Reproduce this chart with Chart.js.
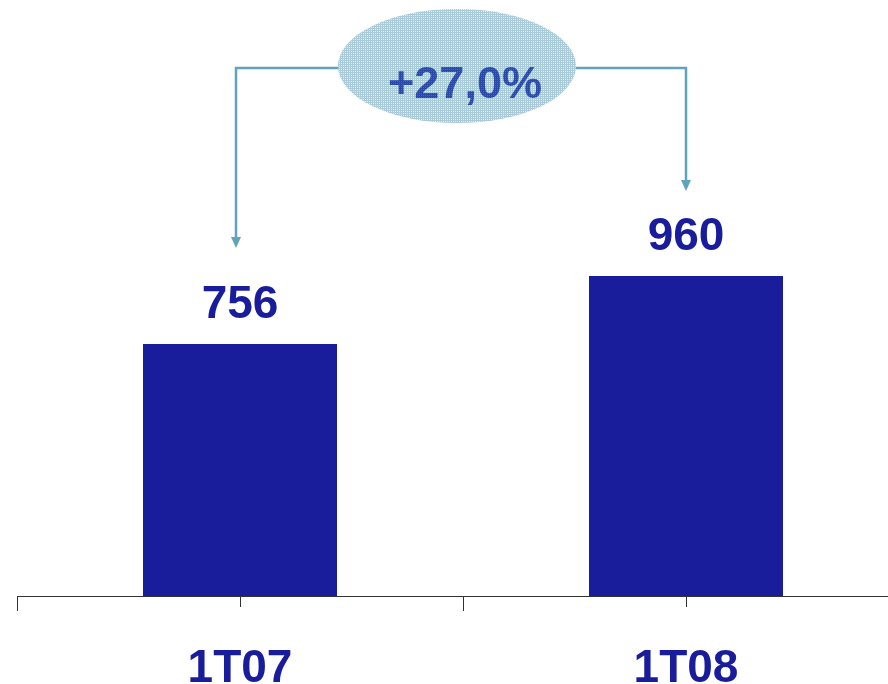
<!DOCTYPE html>
<html>
<head>
<meta charset="utf-8">
<script src="https://cdn.jsdelivr.net/npm/chart.js@4/dist/chart.umd.min.js"></script>
<style>
  html, body { margin: 0; padding: 0; background: #fff; overflow: hidden; }
  #wrap { width: 912px; height: 684px; }
</style>
</head>
<body>
<div id="wrap"><canvas id="growthChart" width="912" height="684"></canvas></div>
<script>
// Datos
const periods = ["1T07", "1T08"];
const values = [756, 960];
const growthLabel = "+27,0%";

const barColor = "#191c9b";
const arrowColor = "#5fa3bd";

// Patron cuadriculado para la elipse
function gridPattern(ctx, light, dark) {
  const c = document.createElement("canvas");
  c.width = 2; c.height = 2;
  const p = c.getContext("2d");
  p.fillStyle = dark;
  p.fillRect(0, 0, 2, 2);
  p.fillStyle = light;
  p.fillRect(1, 1, 1, 1);
  return ctx.createPattern(c, "repeat");
}

// Etiquetas de valor encima de las barras
const valueLabels = {
  id: "valueLabels",
  afterDatasetsDraw(chart) {
    const ctx = chart.ctx;
    const meta = chart.getDatasetMeta(0);
    ctx.save();
    ctx.font = "bold 46px 'Liberation Sans', Arial, sans-serif";
    ctx.fillStyle = barColor;
    ctx.textAlign = "center";
    ctx.textBaseline = "alphabetic";
    meta.data.forEach((bar, i) => {
      ctx.fillText(values[i], bar.x, bar.y - 26);
    });
    ctx.restore();
  }
};

// Eje x con marcas
const axisTicks = {
  id: "axisTicks",
  afterDraw(chart) {
    const ctx = chart.ctx;
    const x = chart.scales.x;
    const y0 = chart.chartArea.bottom;
    ctx.save();
    ctx.strokeStyle = "#333";
    ctx.lineWidth = 1;
    ctx.beginPath();
    ctx.moveTo(chart.chartArea.left, y0 + 0.5);
    ctx.lineTo(chart.chartArea.right, y0 + 0.5);
    for (let i = 0; i <= periods.length; i++) {
      const px = Math.round(x.getPixelForValue(i - 0.5)) + 0.5;
      ctx.moveTo(px, y0);
      ctx.lineTo(px, y0 + 15);
    }
    periods.forEach((p, i) => {
      const px = Math.round(x.getPixelForValue(i)) + 0.5;
      ctx.moveTo(px, y0);
      ctx.lineTo(px, y0 + 11);
    });
    ctx.stroke();
    ctx.restore();
  }
};

// Flechas y elipse de crecimiento
const growthArrow = {
  id: "growthArrow",
  afterDraw(chart) {
    const ctx = chart.ctx;
    const bars = chart.getDatasetMeta(0).data;
    const lx = bars[0].x - 4, rx = bars[1].x;
    const lineY = 68;
    const lTip = bars[0].y - 96, rTip = bars[1].y - 85;
    const cx = 457, cy = 66, ex = 119, ey = 57;

    ctx.save();
    ctx.strokeStyle = arrowColor;
    ctx.fillStyle = arrowColor;
    ctx.lineWidth = 2.5;
    ctx.beginPath();
    ctx.moveTo(lx, lTip - 8);
    ctx.lineTo(lx, lineY);
    ctx.lineTo(cx, lineY);
    ctx.moveTo(cx, lineY);
    ctx.lineTo(rx, lineY);
    ctx.lineTo(rx, rTip - 8);
    ctx.stroke();
    [[lx, lTip], [rx, rTip]].forEach(([ax, ay]) => {
      ctx.beginPath();
      ctx.moveTo(ax - 5, ay - 11);
      ctx.lineTo(ax + 5, ay - 11);
      ctx.lineTo(ax, ay);
      ctx.closePath();
      ctx.fill();
    });

    ctx.beginPath();
    ctx.ellipse(cx, cy, ex, ey, 0, 0, Math.PI * 2);
    ctx.fillStyle = gridPattern(ctx, "#e2eef4", "#a9cbd9");
    ctx.fill();

    ctx.font = "bold 45px 'Liberation Sans', Arial, sans-serif";
    ctx.textAlign = "center";
    ctx.textBaseline = "alphabetic";
    ctx.fillStyle = gridPattern(ctx, "#4a68bc", "#2a48a8");
    ctx.fillText(growthLabel, cx + 8, 98);
    ctx.restore();
  }
};

new Chart(document.getElementById("growthChart"), {
  type: "bar",
  data: {
    labels: periods,
    datasets: [{
      data: values,
      backgroundColor: barColor,
      barPercentage: 0.435,
      categoryPercentage: 1
    }]
  },
  options: {
    responsive: false,
    animation: false,
    layout: { padding: { left: 17, right: 3, top: 0, bottom: 0 } },
    plugins: { legend: { display: false }, tooltip: { enabled: false } },
    scales: {
      x: {
        grid: { display: false },
        border: { display: false },
        ticks: {
          color: barColor,
          padding: 38,
          font: { family: "'Liberation Sans', Arial, sans-serif", size: 46, weight: "bold" }
        },
        afterFit(scale) { scale.height = 88; }
      },
      y: { display: false, min: 0, max: 1788 }
    }
  },
  plugins: [valueLabels, axisTicks, growthArrow]
});
</script>
</body>
</html>
